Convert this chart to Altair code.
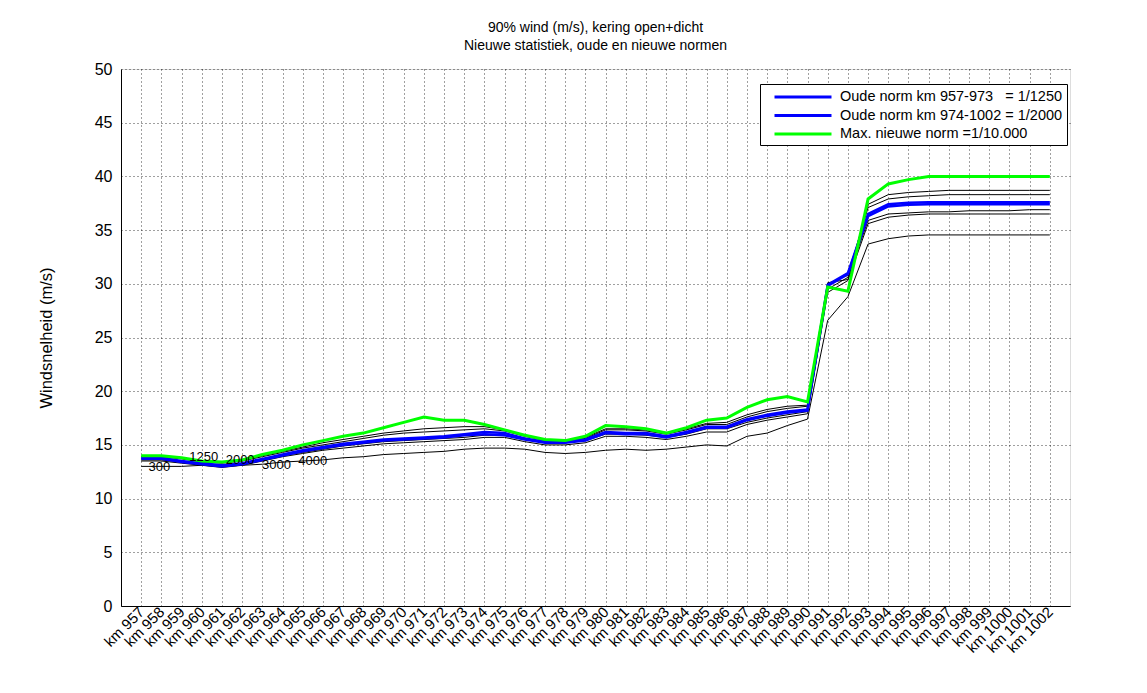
import altair as alt
import pandas as pd

km = list(range(957, 1003))

green = [14.0, 14.0, 13.8, 13.5, 13.4, 13.6, 14.1, 14.5, 15.0, 15.4, 15.8, 16.1, 16.6, 17.1, 17.6, 17.3,
         17.3, 16.9, 16.4, 15.9, 15.5, 15.4, 15.8, 16.8, 16.7, 16.5, 16.1, 16.6, 17.3, 17.5, 18.5, 19.2,
         19.5, 19.0, 29.7, 29.3, 37.9, 39.3, 39.7, 40.0, 40.0, 40.0, 40.0, 40.0, 40.0, 40.0]
blue2000 = [13.8, 13.8, 13.5, 13.3, 13.1, 13.3, 13.7, 14.1, 14.5, 14.8, 15.1, 15.3, 15.5, 15.6, 15.7, 15.8,
            16.0, 16.2, 16.1, 15.6, 15.3, 15.3, 15.5, 16.2, 16.1, 16.1, 15.8, 16.2, 16.7, 16.7, 17.4, 17.8,
            18.1, 18.3, 29.9, 31.0, 36.5, 37.4, 37.55, 37.6, 37.6, 37.6, 37.6, 37.6, 37.6, 37.6]
blue1250 = [13.7, 13.7, 13.4, 13.2, 13.0, 13.2, 13.6, 14.0, 14.4, 14.7, 15.0, 15.2, 15.4, 15.5, 15.6, 15.7,
            15.9, 16.0, 15.9, 15.5, 15.2, 15.2, 15.4, 16.1, 16.0, 16.0, 15.7, 16.1, 16.6, 16.6, 17.3, 17.7,
            18.0, 18.2, 29.8, 30.9, 36.3, 37.2, 37.35, 37.4, 37.4, 37.4, 37.4, 37.4, 37.4, 37.4]
black1 = [13.0, 13.0, 13.0, 13.1, 13.0, 13.1, 13.2, 13.4, 13.5, 13.6, 13.8, 13.9, 14.1, 14.2, 14.3, 14.4,
          14.6, 14.7, 14.7, 14.6, 14.3, 14.2, 14.3, 14.5, 14.6, 14.5, 14.6, 14.8, 15.0, 14.9, 15.8, 16.1,
          16.8, 17.4, 26.6, 28.8, 33.7, 34.2, 34.45, 34.55, 34.55, 34.55, 34.55, 34.55, 34.55, 34.55]
black2 = [13.5, 13.5, 13.3, 13.1, 12.9, 13.1, 13.5, 13.9, 14.2, 14.5, 14.7, 14.9, 15.1, 15.2, 15.3, 15.4,
          15.5, 15.7, 15.7, 15.3, 15.0, 15.0, 15.2, 15.8, 15.8, 15.7, 15.5, 15.8, 16.2, 16.2, 16.9, 17.3,
          17.6, 17.9, 29.2, 30.3, 35.6, 36.2, 36.4, 36.5, 36.5, 36.5, 36.5, 36.5, 36.5, 36.5]
black3 = [13.6, 13.6, 13.4, 13.2, 13.0, 13.2, 13.6, 14.0, 14.3, 14.6, 14.9, 15.1, 15.3, 15.4, 15.5, 15.6,
          15.7, 15.9, 15.9, 15.5, 15.2, 15.2, 15.4, 16.0, 16.0, 15.9, 15.7, 16.0, 16.5, 16.5, 17.1, 17.5,
          17.8, 18.1, 29.5, 30.6, 35.9, 36.5, 36.6, 36.7, 36.7, 36.8, 36.8, 36.8, 36.9, 36.9]
black4 = [13.9, 13.9, 13.7, 13.4, 13.3, 13.5, 13.9, 14.3, 14.7, 15.0, 15.3, 15.6, 15.9, 16.1, 16.2, 16.3,
          16.4, 16.5, 16.3, 15.8, 15.4, 15.4, 15.6, 16.4, 16.4, 16.3, 16.0, 16.4, 16.9, 16.9, 17.6, 18.1,
          18.4, 18.6, 30.0, 30.8, 37.1, 37.9, 38.1, 38.2, 38.3, 38.3, 38.3, 38.3, 38.3, 38.3]
black5 = [13.95, 13.95, 13.75, 13.45, 13.35, 13.55, 14.0, 14.4, 14.8, 15.2, 15.5, 15.8, 16.1, 16.3, 16.5, 16.6,
          16.7, 16.7, 16.4, 15.9, 15.5, 15.4, 15.7, 16.5, 16.5, 16.4, 16.1, 16.5, 17.0, 17.1, 17.8, 18.3,
          18.6, 18.7, 30.1, 30.4, 37.4, 38.3, 38.5, 38.6, 38.7, 38.7, 38.7, 38.7, 38.7, 38.7]

leg1 = "Oude norm km 957-973\u00a0\u00a0\u00a0= 1/1250"
leg2 = "Oude norm km 974-1002 = 1/2000"
leg3 = "Max. nieuwe norm =1/10.000"

label_text = ["300", "1250", "2000", "3000", "4000"]
label_km = [957.9, 960.1, 961.9, 963.7, 965.5]
label_val = [12.9, 13.9, 13.6, 13.1, 13.5]

y_ticks = [0, 5, 10, 15, 20, 25, 30, 35, 40, 45, 50]

black_df = pd.concat([
    pd.DataFrame({"km": km, "v": s, "serie": name})
    for name, s in [("b1", black1), ("b2", black2), ("b3", black3), ("b4", black4), ("b5", black5)]
])
blue_df = pd.concat([
    pd.DataFrame({"km": km, "v": blue1250, "serie": leg1}),
    pd.DataFrame({"km": km, "v": blue2000, "serie": leg2}),
])
green_df = pd.DataFrame({"km": km, "v": green, "serie": leg3})
label_df = pd.DataFrame({"km": label_km, "v": label_val, "t": label_text})

FONT = "Liberation Sans"

x_enc = alt.X("km:Q", scale=alt.Scale(domain=[956, 1003], nice=False, zero=False),
              axis=alt.Axis(values=km, labelExpr="'km ' + datum.value", labelAngle=-45,
                            labelAlign="right", labelBaseline="middle", labelFontSize=15,
                            labelPadding=3, title=None, grid=True, gridDash=[1, 3],
                            gridColor="#000000", gridOpacity=0.75, ticks=False,
                            labelOverlap=False, domainColor="#000000", labelColor="#000000",
                            labelFont=FONT))
y_enc = alt.Y("v:Q", scale=alt.Scale(domain=[0, 50], nice=False),
              axis=alt.Axis(values=y_ticks, title="Windsnelheid (m/s)", titleFontSize=16.5,
                            titleFontWeight="normal", titlePadding=40, labelFontSize=16,
                            labelPadding=9, grid=True, gridDash=[1, 3], gridColor="#000000",
                            gridOpacity=0.75, ticks=False, domainColor="#000000",
                            labelColor="#000000", titleColor="#000000", labelFont=FONT,
                            titleFont=FONT))

color_scale = alt.Scale(domain=[leg1, leg2, leg3], range=["#0000FF", "#0000FF", "#00FF00"])
legend = alt.Legend(title=None, orient="none", legendX=639, legendY=15, symbolType="M-4,0H4",
                    symbolStrokeWidth=3, symbolSize=203, labelFontSize=14.5, labelFont=FONT,
                    strokeColor="#000000", fillColor="#FFFFFF", padding=4, rowPadding=2.5,
                    symbolOffset=30, labelOffset=28, labelLimit=400, labelColor="#000000")

black_layer = alt.Chart(black_df).mark_line(color="#000000", strokeWidth=1).encode(
    x=x_enc, y=y_enc, detail="serie:N")
blue_layer = alt.Chart(blue_df).mark_line(strokeWidth=2.5).encode(
    x=x_enc, y=y_enc,
    color=alt.Color("serie:N", scale=color_scale, legend=legend, sort=[leg1, leg2, leg3]))
green_layer = alt.Chart(green_df).mark_line(strokeWidth=3).encode(
    x=x_enc, y=y_enc,
    color=alt.Color("serie:N", scale=color_scale, legend=legend, sort=[leg1, leg2, leg3]))
text_layer = alt.Chart(label_df).mark_text(fontSize=13, font=FONT, color="#000000").encode(
    x=x_enc, y=y_enc, text="t:N")

chart = alt.layer(black_layer, blue_layer, green_layer, text_layer).properties(
    width=949, height=537,
    title=alt.Title(["90% wind (m/s), kering open+dicht", "Nieuwe statistiek, oude en nieuwe normen"],
                    fontSize=14, fontWeight="normal", font=FONT, anchor="middle", offset=8,
                    color="#000000", lineHeight=18),
    autosize=alt.AutoSizeParams(type="none"),
    padding={"left": 113, "top": 61, "right": 60, "bottom": 80},
).configure_view(stroke="#000000", strokeWidth=1).configure(background="#FFFFFF")

chart.save("out.html", embed_options={"renderer": "svg", "actions": False})
